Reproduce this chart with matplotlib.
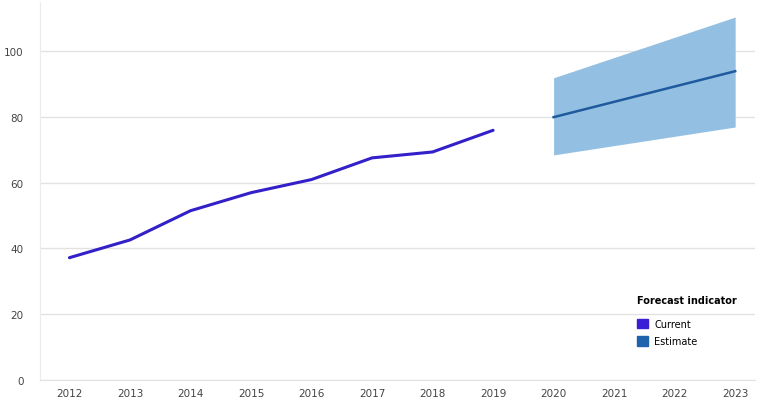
import matplotlib
matplotlib.use("Agg")
import matplotlib.pyplot as plt
from matplotlib.patches import Patch

# actual values
years = [2012, 2013, 2014, 2015, 2016, 2017, 2018, 2019]
current = [37.2, 42.6, 51.5, 57.0, 61.0, 67.6, 69.4, 76.0]

# forecast
fc_years = [2020, 2023]
fc_mid = [80.0, 94.0]
fc_low = [68.5, 77.0]
fc_high = [92.0, 110.5]

all_years = list(range(2012, 2024))
yticks = [0, 20, 40, 60, 80, 100]

fig = plt.figure(figsize=(7.62, 4.06), dpi=100)
ax = fig.add_axes([0.053, 0.062, 0.938, 0.93])

ax.fill_between(fc_years, fc_low, fc_high, color="#93c0e2", lw=0, zorder=2)
ax.plot(fc_years, fc_mid, color="#1f5a9e", lw=1.8, zorder=3)
ax.plot(years, current, color="#3320c8", lw=2.2, zorder=3, solid_capstyle="round")

ax.set_xlim(2011.52, 2023.33)
ax.set_ylim(0, 115)
ax.set_xticks(all_years)
ax.set_xticklabels([str(y) for y in all_years])
ax.set_yticks(yticks)
ax.grid(axis="y", color="#e2e2e2", lw=1)
ax.set_axisbelow(True)
for s in ["top", "right"]:
    ax.spines[s].set_visible(False)
ax.spines["left"].set_color("#ececec")
ax.spines["bottom"].set_color("#e2e2e2")
ax.tick_params(length=0, labelsize=7.5, colors="#444444", pad=6)
ax.tick_params(axis="y", pad=12)

handles = [Patch(color="#3a1fd6", label="Current"),
           Patch(color="#1f63ad", label="Estimate")]
leg = ax.legend(handles=handles, title="Forecast indicator", loc="upper left",
                bbox_to_anchor=(0.829, 0.235), frameon=False, fontsize=7,
                title_fontsize=7, handlelength=1.1, handleheight=1.1,
                handletextpad=0.7, labelspacing=0.75, borderaxespad=0)
leg.get_title().set_fontweight("bold")
leg._legend_box.align = "left"
leg._legend_box.sep = 10

fig.savefig("out.png", dpi=100)
